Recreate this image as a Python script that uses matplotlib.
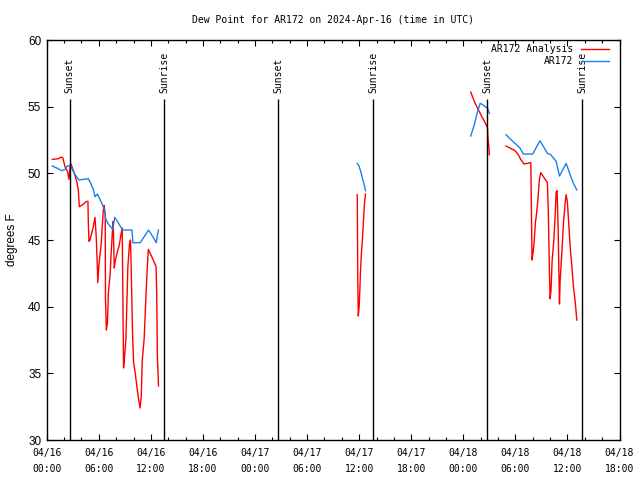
import numpy as np
import pandas as pd
import matplotlib
matplotlib.use("Agg")
import matplotlib.pyplot as plt
import matplotlib.dates as mdates

nan = np.nan
start = pd.Timestamp("2024-04-16 00:00")

# hours after 04/16 00:00 UTC, nan = gap in the record
analysis_hours = [
    0.65, 1.34, 1.61, 1.84, 2.11, 2.42, 2.57, 2.68, 2.80, 3.18, 3.46, 3.64, 3.76, 4.03,
    4.61, 4.75, 4.79, 4.87, 4.99, 5.37, 5.56, 5.70, 5.83, 5.88, 6.00, 6.14, 6.28, 6.37,
    6.52, 6.61, 6.74, 6.77, 6.87, 7.00, 7.10, 7.30, 7.45, 7.58, 7.66, 7.78, 7.89, 8.09,
    8.36, 8.55, 8.70, 8.78, 8.85, 8.93, 9.12, 9.24, 9.35, 9.54, 9.65, 9.73, 9.88, 10.00,
    10.20, 10.39, 10.58, 10.75, 10.89, 11.01, 11.23, 11.43, 11.59, 11.71, 11.92, 12.28,
    12.60, 12.68, 12.75, 12.88,
    nan,
    35.78, 35.84, 35.90, 36.00, 36.08, 36.15, 36.25, 36.38, 36.50, 36.61, 36.73,
    nan,
    48.85, 49.37, 49.75, 50.14, 50.52, 50.79, 50.83, 50.94, 51.00,
    nan,
    52.92, 53.38, 53.96, 54.34, 54.61, 55.00, 55.78, 55.85, 55.92, 56.03, 56.15, 56.30,
    56.46, 56.61, 56.76, 56.92, 57.23, 57.69, 57.80, 57.92, 58.00, 58.11, 58.23, 58.43,
    58.58, 58.70, 58.81, 58.93, 59.01, 59.08, 59.16, 59.35, 59.54, 59.73, 59.85, 60.00,
    60.12, 60.31, 60.51, 60.69, 60.89, 61.08,
]
analysis_dewpt = [
    51.05, 51.1, 51.2, 51.2, 50.5, 50.1, 49.55, 50.4, 50.7, 50.0, 49.4, 48.75, 47.5, 47.6,
    47.9, 47.9, 46.4, 44.9, 45.0, 46.0, 46.7, 45.3, 43.1, 41.8, 43.0, 43.9, 44.7, 45.75,
    47.25, 47.6, 46.9, 40.6, 38.25, 38.8, 41.0, 42.4, 44.3, 45.75, 46.4, 42.9, 43.4, 44.0,
    44.6, 45.4, 45.9, 40.5, 35.4, 35.9, 37.5, 40.25, 43.0, 44.75, 45.0, 43.0, 38.25, 35.9,
    35.0, 34.0, 33.1, 32.4, 33.2, 36.0, 37.6, 40.75, 43.0, 44.3, 44.0, 43.5,
    43.0, 40.75, 36.25, 34.05,
    nan,
    48.4, 42.0, 39.3, 40.0, 41.25, 42.6, 43.9, 45.1, 46.5, 47.75, 48.45,
    nan,
    56.1, 55.25, 54.75, 54.25, 53.8, 53.4, 52.75, 52.0, 51.4,
    nan,
    52.05, 51.9, 51.7, 51.4, 51.05, 50.7, 50.8, 47.25, 43.5, 44.0, 44.75, 46.25,
    47.1, 48.1, 49.5, 50.05, 49.75, 49.3, 47.0, 42.75, 40.6, 41.25, 43.4, 45.0,
    46.75, 48.6, 48.7, 45.75, 42.75, 40.2, 42.0, 44.0, 46.25, 47.75, 48.4, 47.8,
    46.5, 44.5, 43.0, 41.5, 40.4, 39.0,
]

obs_hours = [
    0.65, 1.15, 1.73, 2.11, 2.37, 2.76, 2.95, 3.26, 3.72, 4.22, 4.79, 5.07, 5.37, 5.56,
    5.83, 6.14, 6.45, 6.64, 6.80, 7.00, 7.30, 7.61, 7.84, 8.14, 8.47, 8.73, 9.31, 9.82,
    9.93, 10.77, 11.23, 11.73, 12.23, 12.62, 12.76, 12.88,
    nan,
    35.78, 35.95, 36.20, 36.43, 36.60, 36.73,
    nan,
    48.85, 49.25, 49.63, 49.94, 50.25, 50.52, 50.79, 51.00,
    nan,
    52.92, 53.38, 53.96, 54.53, 54.91, 56.00, 56.84, 57.69, 58.08, 58.70, 59.08, 59.85,
    60.31, 60.69, 61.08,
]
obs_dewpt = [
    50.55, 50.4, 50.2, 50.3, 50.55, 50.6, 50.3, 49.9, 49.5, 49.55, 49.6, 49.25, 48.8, 48.25,
    48.45, 48.05, 47.6, 47.25, 46.6, 46.3, 46.05, 45.8, 46.7, 46.4, 46.05, 45.75, 45.75, 45.75,
    44.8, 44.8, 45.25, 45.75, 45.25, 44.8, 45.4, 45.75,
    nan,
    50.75, 50.6, 50.1, 49.5, 49.1, 48.7,
    nan,
    52.8, 53.6, 54.6, 55.25, 55.15, 55.0, 54.9, 54.5,
    nan,
    52.9, 52.6, 52.25, 51.9, 51.45, 51.45, 52.45, 51.5, 51.4, 50.9, 49.8, 50.75,
    49.9, 49.25, 48.75,
]

sun_hours = [2.65, 13.55, 26.65, 37.63, 50.77, 61.70]
sun_labels = ["Sunset", "Sunrise", "Sunset", "Sunrise", "Sunset", "Sunrise"]


def to_time(hours):
    return start + pd.to_timedelta(np.array(hours, dtype=float), unit="h")


mono = "DejaVu Sans Mono"
sans = "Liberation Sans"

fig = plt.figure(figsize=(6.4, 4.8), dpi=100)
ax = fig.add_axes([0.073, 0.0833, 0.895, 0.8333])

ax.plot(to_time(analysis_hours), analysis_dewpt, color="#ff0000", lw=1.0,
        label="AR172 Analysis")
ax.plot(to_time(obs_hours), obs_dewpt, color="#1a80f0", lw=1.0, label="AR172")

for t, lab in zip(to_time(sun_hours), sun_labels):
    ax.vlines(t, 30, 55.6, color="black", lw=1.0)
    ax.text(t, 56.0, lab, rotation=90, ha="center", va="bottom",
            fontsize=7, family=mono)

ax.set_xlim(start, start + pd.Timedelta(hours=66))
ax.set_ylim(30, 60)
ax.set_yticks(range(30, 61, 5))

ax.xaxis.set_major_locator(mdates.HourLocator(byhour=[0, 6, 12, 18]))
ax.xaxis.set_minor_locator(mdates.HourLocator(interval=2))
ax.xaxis.set_major_formatter(mdates.DateFormatter("%m/%d\n%H:%M"))

ax.tick_params(which="both", direction="in", top=True, right=True)
ax.tick_params(which="major", length=4, width=0.8)
ax.tick_params(which="minor", length=2.2, width=0.8)
ax.tick_params(axis="x", pad=6)
ax.tick_params(axis="y", pad=4)
for lab in ax.get_xticklabels():
    lab.set_fontfamily(mono)
    lab.set_fontsize(7)
    lab.set_linespacing(1.65)
for lab in ax.get_yticklabels():
    lab.set_fontfamily(sans)
    lab.set_fontsize(8.5)

ax.set_ylabel("degrees F", fontsize=8.5, family=sans)
ax.yaxis.set_label_coords(-0.051, 0.5)
ax.set_title("Dew Point for AR172 on 2024-Apr-16 (time in UTC)",
             fontsize=7, family=mono, pad=12)

ax.legend(loc="upper right", bbox_to_anchor=(0.982, 0.99), frameon=False,
          markerfirst=False, borderpad=0, borderaxespad=0, handlelength=2.9,
          handletextpad=0.8, labelspacing=0.2, prop={"family": mono, "size": 7})

for s in ax.spines.values():
    s.set_linewidth(1.0)

fig.savefig("out.png", dpi=100)
